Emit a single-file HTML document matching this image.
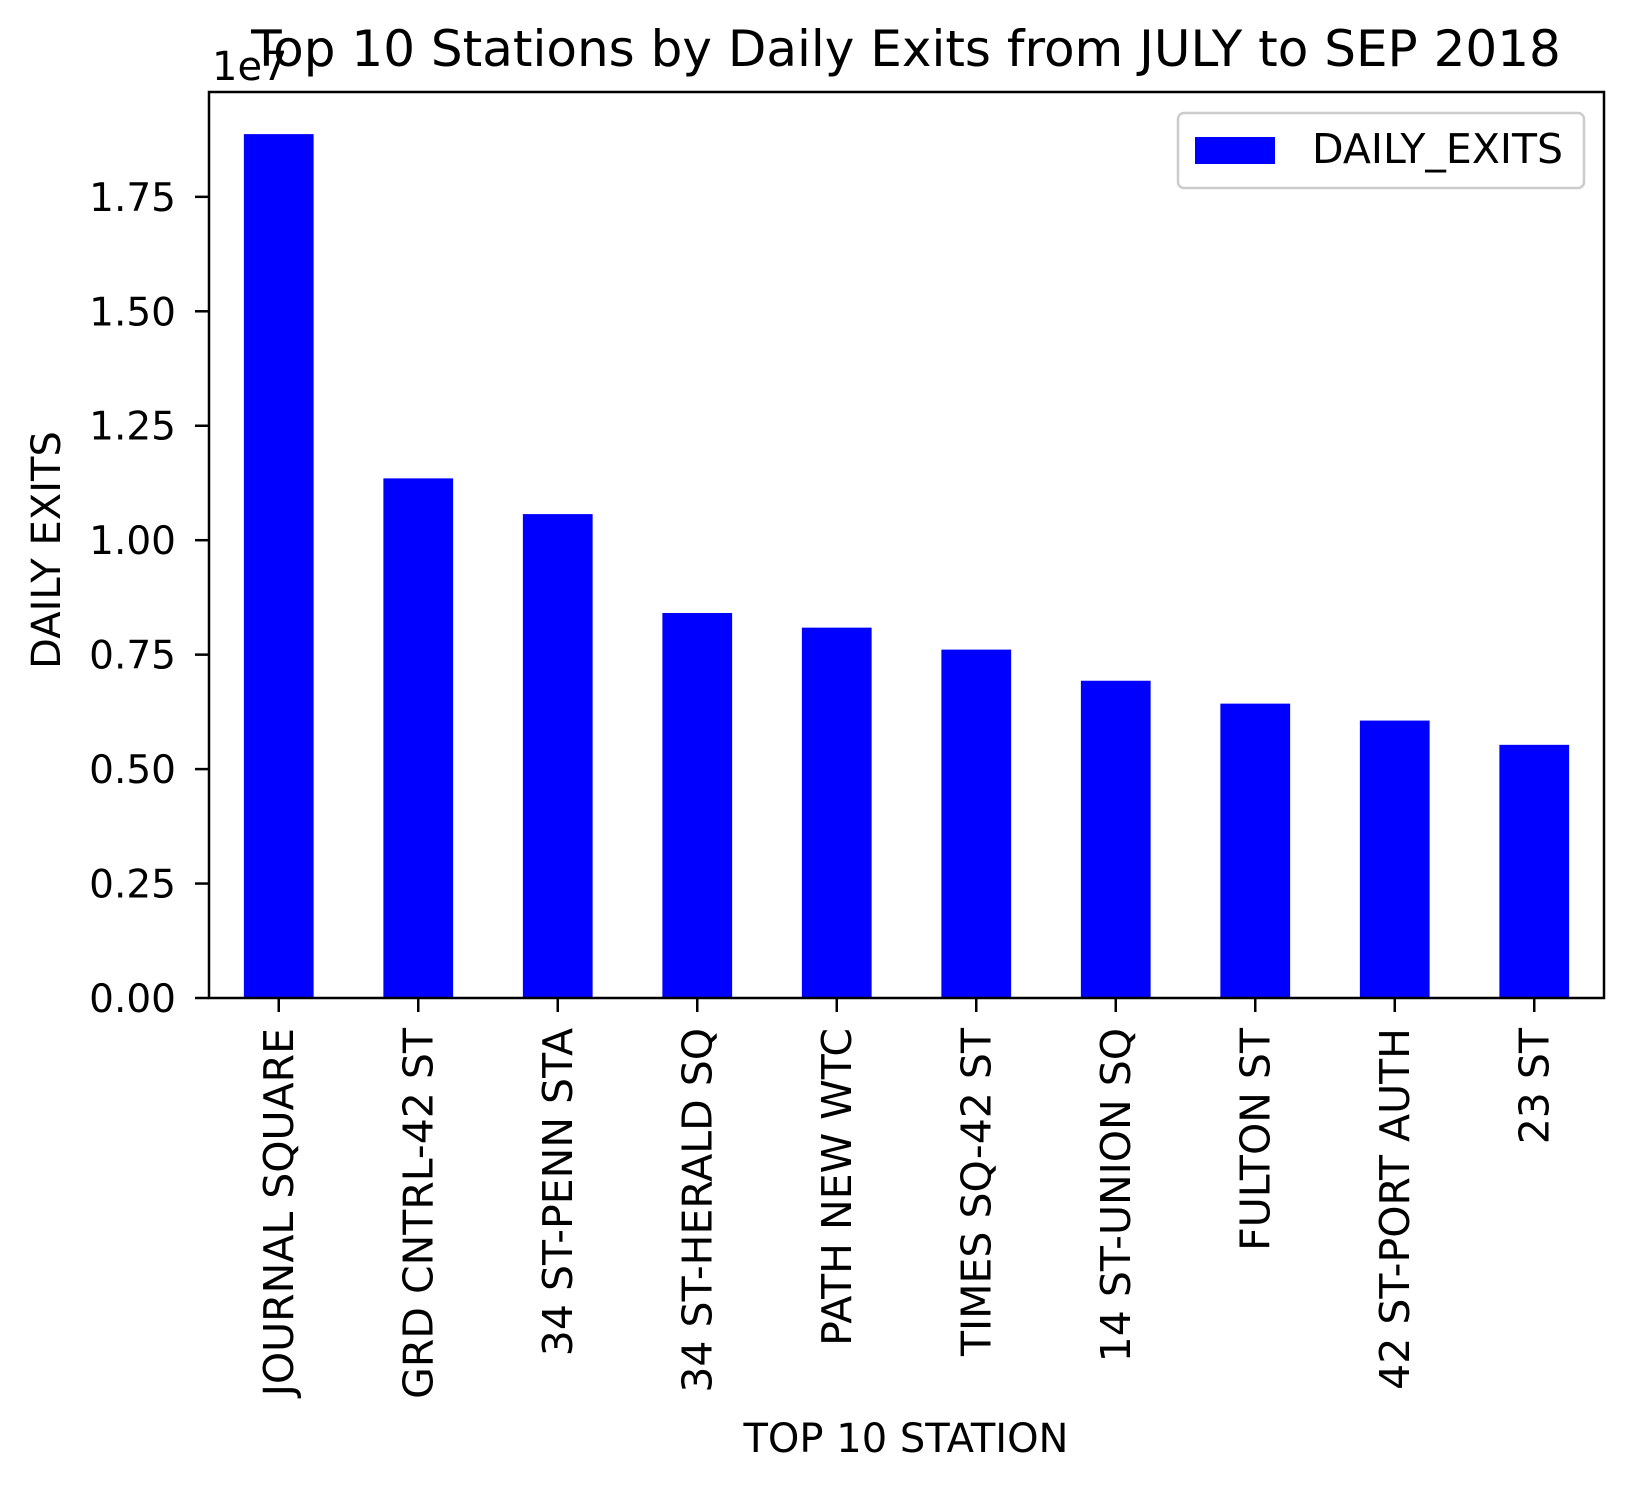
<!DOCTYPE html>
<html><head><meta charset="utf-8"><style>body{margin:0;background:#fff}svg{display:block;font-family:"DejaVu Sans","Liberation Sans",sans-serif}</style></head>
<body>
<svg id="c" width="1633" height="1491" viewBox="0 0 1633 1491">
<text x="906" y="66" font-size="50" text-anchor="middle">Top 10 Stations by Daily Exits from JULY to SEP 2018</text>
<text x="212" y="80" font-size="40">1e7</text>
<text transform="translate(60,550) rotate(-90)" font-size="40" text-anchor="middle">DAILY EXITS</text>
<text x="906" y="1452" font-size="40" text-anchor="middle">TOP 10 STATION</text>
<g id="bars"></g><g id="yt"></g><g id="xt"></g>
<rect x="209" y="92" width="1395" height="906" fill="none" stroke="#000" stroke-width="2.5"/>
<g>
<rect x="1178" y="113" width="406" height="75" rx="6" fill="#fff" stroke="#ccc" stroke-width="2.5"/>
<rect x="1195" y="137" width="80" height="27" fill="#0000ff"/>
<text x="1312" y="163" font-size="41">DAILY_EXITS</text>
</g>
</svg>
<script>
const categories=["JOURNAL SQUARE","GRD CNTRL-42 ST","34 ST-PENN STA","34 ST-HERALD SQ","PATH NEW WTC","TIMES SQ-42 ST","14 ST-UNION SQ","FULTON ST","42 ST-PORT AUTH","23 ST"];
const values=[1.887,1.135,1.057,0.841,0.809,0.761,0.693,0.643,0.606,0.553];
const yTicks=[0,0.25,0.5,0.75,1.0,1.25,1.5,1.75];
const yTickLabels=["0.00","0.25","0.50","0.75","1.00","1.25","1.50","1.75"];
const NS="http://www.w3.org/2000/svg";
const L=209,R=1604,T=92,B=998,ymax=1.979;
const y=v=>B-v/ymax*(B-T);
const step=(R-L)/categories.length;
const x=i=>L+(i+0.5)*step;
const bw=step*0.5;
const bars=document.getElementById('bars'),yt=document.getElementById('yt'),xt=document.getElementById('xt');
values.forEach((v,i)=>{
 const r=document.createElementNS(NS,'rect');
 r.setAttribute('x',x(i)-bw/2);r.setAttribute('y',y(v));r.setAttribute('width',bw);r.setAttribute('height',B-y(v));r.setAttribute('fill','#0000ff');
 
 
 bars.appendChild(r);
 const t=document.createElementNS(NS,'line');
 t.setAttribute('x1',x(i));t.setAttribute('x2',x(i));t.setAttribute('y1',B);t.setAttribute('y2',B+14);t.setAttribute('stroke','#000');t.setAttribute('stroke-width','2.5');
 
 
 xt.appendChild(t);
 const l=document.createElementNS(NS,'text');
 l.setAttribute('transform','translate('+(x(i)+14)+','+(B+30)+') rotate(-90)');l.setAttribute('font-size','41');l.setAttribute('text-anchor','end');l.textContent=categories[i];
 
 
 xt.appendChild(l);
});
yTicks.forEach((v,i)=>{
 const t=document.createElementNS(NS,'line');
 t.setAttribute('x1',L-14);t.setAttribute('x2',L);t.setAttribute('y1',y(v));t.setAttribute('y2',y(v));t.setAttribute('stroke','#000');t.setAttribute('stroke-width','2.5');
 
 
 yt.appendChild(t);
 const l=document.createElementNS(NS,'text');
 l.setAttribute('x',176);l.setAttribute('y',y(v)+14);l.setAttribute('font-size','39');l.setAttribute('text-anchor','end');l.textContent=yTickLabels[i];
 
 
 yt.appendChild(l);
});
</script>
</body></html>
